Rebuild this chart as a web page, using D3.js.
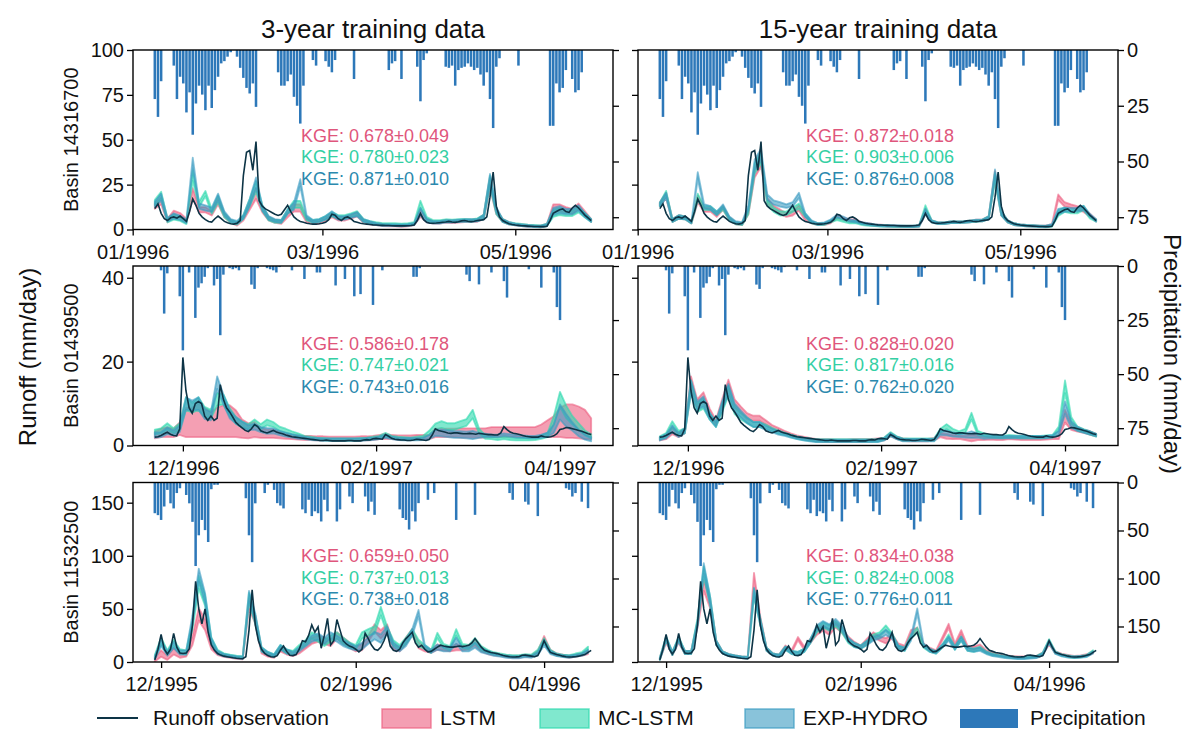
<!DOCTYPE html>
<html>
<head>
<meta charset="utf-8">
<script src="https://cdn.jsdelivr.net/npm/d3@7"></script>
<style>
  body { margin: 0; background: #fff; }
  svg { font-family: "Liberation Sans", Arial, sans-serif; }
</style>
</head>
<body>
<svg id="chart" width="1192" height="730"></svg>
<script>
// ---- data ----
const colTitles = ["3-year training data", "15-year training data"]
const basinIds = ["14316700", "01439500", "11532500"]
const startDates = ["1996-01-08", "1996-11-22", "1995-11-29"]
const monthTicks = [
  ["1996-01-01", "1996-03-01", "1996-05-01"],
  ["1996-12-01", "1997-02-01", "1997-04-01"],
  ["1995-12-01", "1996-02-01", "1996-04-01"]
]
const runoffTicks = [[0, 25, 50, 75, 100], [0, 20, 40], [0, 50, 100, 150]]
const precipTicks = [[0, 25, 50, 75], [0, 25, 50, 75], [0, 50, 100, 150]]
const runoffMax = [100, 42.8, 169]
const precipMax = [80.5, 83, 187]
const modelNames = ["LSTM", "MC-LSTM", "EXP-HYDRO"]
const kgeText = [
  [["0.678±0.049", "0.780±0.023", "0.871±0.010"], ["0.872±0.018", "0.903±0.006", "0.876±0.008"]],
  [["0.586±0.178", "0.747±0.021", "0.743±0.016"], ["0.828±0.020", "0.817±0.016", "0.762±0.020"]],
  [["0.659±0.050", "0.737±0.013", "0.738±0.018"], ["0.834±0.038", "0.824±0.008", "0.776±0.011"]]
]

// daily runoff observation (mm/day)
const obs1 = [11.6,14.3,9,6,5,6.5,7,6.3,7.5,6, 4.5,10,17,13.5,9,6.9,5.5,4.5,4.1,6, 7.5,6,4.5,3.8,3.2,3,3.5,5,30,43,
  44,33,49,16,13,11.5,10.5,9.5,8.5,7.8, 8.5,11,13.5,10,7,5.5,4.5,4,3.5,3.2, 3,3,3.2,3.5,4,5.5,8.5,8,6,5,
  6.5,7,6,4.5,4,3.5,3.2,3,2.8,2.6, 2.5,2.4,2.3,2.2,2.2,2.1,2,2,2,2, 2.1,2.2,2.5,5,9,5.5,4,3.5,3.5,3.6,
  3.8,4,4.2,4.5,4.2,4,4.3,4.8,5,4.6, 4.4,4.6,5,5.2,5.5,7,18,32,13,7, 5,4,3.2,2.8,2.5,2.3,2.1,2,1.9,1.8,
  1.7,1.7,1.6,1.6,1.8,5,9,10,11,11.5, 10,9.5,12,13.5,12,10,8,6.5,5]
const obs2 = [2,2.1,2.4,2.8,3.2,2.7,2.4,2.3,4,21, 13,9,7.7,10,10.5,10,7,6,7,6, 6.5,14.5,11,9,8,6.8,5.5,4.8,4.2,3.6,
  3.3,4,5,4.5,3.5,3.2,3,3.3,3.6,3.2, 3,2.8,2.5,2.3,2.1,2,1.9,1.8,1.7,1.6, 1.5,1.4,1.3,1.2,1.2,1.3,1.2,1.1,1.1,1.1,
  1.1,1.1,1.2,1.2,1.1,1.1,1.1,1.3,1.4,1.3, 1.6,1.7,1.6,1.5,2.6,2.2,1.7,1.5,1.4,1.3, 1.3,1.2,1.2,1.3,1.5,1.4,1.3,1.2,1.4,2.5,
  4,3.6,3.4,3.2,3,2.9,3,3,2.9,2.8, 2.8,2.9,2.8,2.7,2.9,2.8,2.7,2.6,2.6,2.5, 2.5,3,4.5,3.8,3.2,2.9,2.8,2.6,2.4,2.2,
  2.1,2,2,2,2.3,2.1,2,2.1,2.3,2.8, 3.8,4,4.3,4.2,4,3.8,3.6,3.4,3.1,2.8,2.6]
const obs3 = [2,12,26,12,7.5,12,27,14,8.5,8, 8.5,12.6,35,76,50,36,50,28,16,11, 8,6.5,5.5,5,4.5,4,3.6,3.3,3.1,5,
  30,68,35,20,12,8,6,5,4.7,6, 11,15,10,6.3,6,7,12,20,19,25, 35,28,33,13,25,41,16,20,40,30,
  20,17,15,14,12,9.5,12,27,22,16, 12,11,14,20,28,15,11,10,12,18, 22,25,28,18,14,15.8,12,9.5,10,12,
  14,15.8,15,14.5,14,14,14.5,15,14.5,15, 15.8,18,22,18,14,11,10,9,8.5,7.9, 7,6.2,5.5,5,4.7,4.8,5,6.3,6.5,6,
  5.5,5,6,12,20,14,9,8,7,6.3, 5.5,5,4.7,4.8,5,5.5,6.3,7,9,11]

// daily precipitation (mm/day)
const prcp1 = [22,30,14,0,0,0,7,22,12,15, 28,19,38,24,16,20,27,16,26,18, 12,6,5,3,1,0,3,8,12.5,17,
  19.5,15,25.5,0,0,0,0,0,0,10, 16,16,14,11,21,25,33,16,0,0, 4.5,7,0,0,5,7.5,10,4.5,0,0,
  0,0,0,13,0,0,0,0,0,0, 0,0,0,0,9,6,5,0,13,0, 0,0,0,7.5,23,4.5,1.5,0,0,0,
  0,0,7.5,8,7,16,9,8,7.5,6, 7.5,9,8,11,16,10,22,35,7.5,3.7, 0,0,0,0,0,7,0,0,0,0,
  0,0,0,0,0,34,34,15,19,17, 9,0,13,19,18,10,0,0,0]
const prcp2 = [0,0,2,22,3.4,0,0,0,14,39, 0,3,0,24,10,8,5,1,0,9, 6,32,4,0,1,1.5,1,2,0,0,
  0,8.6,10.6,1,0,0,1,1.5,2,3, 0.5,0,0,0,2,0,0,0,6,0, 0,0,3,3,0,0,0,0,9,0,
  0,6,0,0,14,0,13,0,0,0, 18,0,0,2,0,0,0,0,0,0, 0,0,0,5,5,1,0,0,0,0,
  0,0,0,0,0,0,0,0,0,0, 4,7,0,0,8.5,0,0,0,3,0, 0,0,7,14.6,0,0,0,0,0,0,
  1.5,0,0,0,10,0,0,0,3,19, 25,0,0,0,0,0,0,0,0,0,0]
const prcp3 = [32,34,39,25,7.7,21.7,27,11,6,0, 13,21.7,41,87,55,39,49.6,62,7,2.4, 2.4,0,0,0,0,0,0,0,0,16.4,
  55,83,21.7,0,0,11,2.4,0,7.7,21.5, 24,27,0,0,0,0,0,28,32,18, 35,30,32,40.6,18,30,0,0,40.6,28,
  0,0,14.6,21.5,0,0,0,14.6,30,20, 33.7,0,0,0,0,0,0,0,28,37, 39,49,30,40.6,21.5,0,0,18,0,11,
  0,0,0,0,0,0,39,0,0,0, 0,0,33.7,0,0,0,0,0,0,0, 0,0,0,11,18,0,0,0,20,23,
  0,0,35,0,0,0,0,0,0,0, 0,6,7.6,14.6,11,0,20,0,26.7,0]

// model ensembles, every 2nd day: ensemble middle and half spread (mm/day)
const lstm1L = [13,16,5,9,8,5,20,11,11,9, 16,8,4.5,3,6,13,20,11,6,4.5, 4,8,12,12,5,4,4,5.5,8,6,
  6,7,8.5,4.5,3.5,3,2.5,2.3,2.2,2, 2.2,3,9,5,4,4,4.5,4.2,4.5,4.8, 4.8,5,7,26,10,5,3.5,2.8,2.4,2, 1.8,1.7,2.5,12,12,11,10,13,9,5]
const mc1L = [15,19,5,7,6,4,30,14,20,10, 17,8,4.5,3.5,7,15,24,12,6,4.5, 4.5,10,14,14,6,4.5,5,6.5,8.5,7,
  7,8,9,5,4,3.5,3,3,3,2.8, 3,3.5,14,6,4.5,4.5,5,4.8,5,5.2, 5,5.5,7,27,10,5,3.5,3,2.6,2.2, 2,1.8,2.5,9,10,9,9,11,8,5]
const exp1L = [14,18,5.5,7.5,6.5,4.5,37,13,12,11, 18,9,5,4,7,15,26,12,6.5,5, 4.5,10,13,26,7,4.5,5,6.5,9,6.5,
  6.5,7.5,8.5,5,4,3,2.5,2.5,2.4,2.3, 2.5,3,10,5,4,4,4.5,4.5,4.8,5, 5,5.2,7,28,11,5,3.5,2.8,2.4,2, 1.8,1.7,2.5,10,11,10,10,12,8,5]
const spread1L = [1.5,2,1,1.5,1.2,1,3,1.5,1.5,1.2, 2,1.2,0.8,0.8,1,2,3,1.5,1,0.8, 0.8,1.2,2,2,1,0.8,0.8,1,1.2,1,
  1,1,1.2,0.8,0.7,0.6,0.6,0.5,0.5,0.5, 0.5,0.6,2,1,0.7,0.7,0.7,0.7,0.7,0.7, 0.7,0.7,1.2,3,1.5,0.8,0.6,0.5,0.5,0.5, 0.5,0.5,0.6,2,2,1.5,1.5,1.5,1.2,0.8]

const lstm1R = [14,19,5,7,6.5,4,17,11,11,8, 12,6,3.5,3,10,32,38,16,12,10, 8,9,12,6,4,3,3,4,7,6,
  5,5,3.5,3,2.5,2.3,2,2,1.8,1.8, 1.7,2,10,4.5,3.5,3.5,4,4,4.2,4.5, 5,5,6.5,30,9,4.5,3,2.5,2.2,2, 1.8,1.7,2.5,18,14,13,12,11,8,5]
const mc1R = [14,20,5,7,6.5,4,18,12,12,9, 12,6,3.5,3,10,34,40,15,11,9, 9,11,13,8,4,3,3,4.5,6,5,
  4,4,3,2.5,2.3,2,2,1.8,1.8,1.7, 1.7,2,12,4.5,3.5,3.5,4,4,4.2,4.5, 4.8,5,6.5,29,9,4.5,3,2.5,2.2,2, 1.8,1.6,2,9,11,10,10,12,7,5]
const exp1R = [14,19,5,7,6.5,4,30,13,12,9, 13,6.5,4,3.5,12,36,42,18,15,14, 13,14,19,8,4.5,3,3.5,5,7.5,6.5,
  5,4.5,3.5,3,2.5,2.2,2,2,1.9,1.8, 1.8,2,10,4.5,3.5,3.5,4,4,4.2,4.5, 5,5,6.5,31,9,4.5,3,2.5,2.2,2, 1.8,1.7,2.5,10,11,11,11,12,8,5]
const spread1R = [1,1.5,0.8,1,0.8,0.6,2,1.2,1,1, 1,0.8,0.6,0.6,1.5,3,3,1.5,1.2,1.2, 1,1.2,1.5,1,0.6,0.5,0.5,0.6,0.8,0.7,
  0.6,0.6,0.5,0.5,0.4,0.4,0.4,0.4,0.4,0.4, 0.4,0.4,1.5,0.6,0.5,0.5,0.5,0.5,0.5,0.5, 0.5,0.5,0.8,2.5,1.2,0.6,0.5,0.4,0.4,0.4, 0.4,0.4,0.5,1.5,1.2,1,1,1.2,0.8,0.6]

const lstm2L = [2.5,3,3.2,3,4,5.5,5.5,6,5.5,5, 5.5,5.8,5.8,5.2,4,3.5,3.8,3,2.8,2.8, 2.5,2.2,2,1.9,1.8,1.8,1.7,1.7,1.6,1.6,
  1.6,1.6,1.6,1.7,1.7,1.8,2,2.2,2,1.9, 1.9,1.9,2,2,2,3,3,3,3,3, 3,3,3,3,3.2,3.2,3.2,3.2,3.2,3.2, 3.2,3.2,3.5,4,4.5,5.5,5.8,5.8,5.5,5,4]
const lstmSpread2L = [0.8,1,1.2,1,1.5,3.5,3.5,4,3.5,3, 3.5,3.8,3.8,3.2,2.2,1.8,1.8,1.2,1,1, 0.8,0.6,0.5,0.5,0.5,0.5,0.5,0.5,0.5,0.5,
  0.5,0.5,0.5,0.5,0.5,0.5,0.5,0.6,0.5,0.5, 0.5,0.5,0.5,0.5,0.5,1,1,1,1,1.1, 1.1,1.1,1.1,1.1,1.2,1.2,1.2,1.2,1.2,1.2, 1.2,1.2,1.5,2,2.5,3.5,4,4,3.8,3.5,2.5]
const mc2L = [3.2,3.5,4.5,3.5,4.5,10,9,10,8,7.5, 11,11,8,6,5,4.5,5.5,4.5,5.5,5, 4,3.5,3,2.5,2,1.8,1.6,1.5,1.4,1.4,
  1.4,1.4,1.4,1.5,1.6,1.8,2,2.6,2,1.8, 1.7,1.6,1.8,2,3,4.5,5,4.5,4.5,5, 5.5,7.5,3.5,2,1.8,1.6,1.8,1.6,1.5,1.5, 1.5,1.6,2,2.5,6,11,8,6,4.5,3,2.2]
const exp2L = [2.5,2.6,3.5,3,4,10,9.5,10,7.5,7, 15,11,7.5,6,5,4.2,4.5,3.8,3.5,3.5, 3,2.6,2.3,2,1.8,1.6,1.5,1.4,1.4,1.4,
  1.4,1.4,1.4,1.4,1.5,1.6,1.8,2.2,1.8,1.6, 1.5,1.5,1.5,1.6,2,3,3,2.8,2.6,2.6, 2.5,2.5,2.4,2.4,2.3,2.3,2.6,2.4,2.2,2.1, 2,2,2.2,2.6,4,8,6,4.5,3,2,1.5]
const spread2L = [0.6,0.6,0.8,0.6,0.8,1.5,1.2,1.5,1.2,1, 1.5,1.2,1,0.8,0.7,0.6,0.7,0.6,0.7,0.6, 0.5,0.5,0.4,0.4,0.3,0.3,0.3,0.3,0.3,0.3,
  0.3,0.3,0.3,0.3,0.3,0.3,0.3,0.4,0.3,0.3, 0.3,0.3,0.3,0.3,0.5,0.7,0.8,0.8,0.8,0.8, 0.8,1,0.6,0.4,0.3,0.3,0.3,0.3,0.3,0.3, 0.3,0.3,0.4,0.5,1,1.8,1.5,1,0.8,0.6,0.5]

const lstm2R = [1.6,2,3.5,2.5,3.5,15,10,11.5,8,5.5, 10,14.5,10,8.5,7,6.5,6.5,5.5,4.5,3.8, 3.2,2.6,2.1,1.8,1.5,1.3,1.2,1.2,1.1,1.1,
  1.1,1.2,1.2,1.2,1.3,1.4,1.5,2.6,1.8,1.4, 1.3,1.3,1.3,1.3,1.5,2.5,2.2,2,2,1.8, 1.8,1.8,1.7,1.7,1.6,1.6,1.8,1.7,1.6,1.6, 1.6,1.6,1.7,1.8,2,7,4.5,3.8,3.4,3,2.5]
const mc2R = [1.8,2.5,5,3,3.5,14,9,10,7,5, 9,13,8.5,7,6,5,5,4.5,3.8,3.2, 2.8,2.3,1.9,1.6,1.4,1.2,1.2,1.2,1.2,1.2,
  1.2,1.2,1.2,1.2,1.2,1.2,1.6,2.8,1.9,1.4, 1.4,1.4,1.4,1.4,1.4,3.5,4.5,3.5,3,3.5, 7,3,2.5,2.2,2.1,2,2.2,2.1,2,2, 2,2,2.1,2.2,4,14,6,4,3.5,3,2.4]
const exp2R = [1.6,2.2,4,2.5,3.5,14,9.5,10.5,7,5, 9.5,13.5,9,7.5,6,5,5,4.2,3.6,3, 2.6,2.2,1.8,1.5,1.3,1.1,1.1,1.1,1.1,1.1,
  1.1,1.1,1.1,1.1,1.1,1.1,1.5,2.6,1.8,1.3, 1.3,1.3,1.3,1.3,1.3,3,3,2.6,2.4,2.4, 2.6,2.4,2,2,2,2,2,2,2,2, 2,2,2,2.2,3,9,5,4,3.4,3,2.5]
const spread2R = [0.4,0.5,0.8,0.5,0.6,1.5,1,1.2,0.8,0.6, 1,1.2,1,0.8,0.7,0.6,0.6,0.5,0.4,0.4, 0.3,0.3,0.3,0.3,0.3,0.3,0.3,0.3,0.3,0.3,
  0.3,0.3,0.3,0.3,0.3,0.3,0.3,0.4,0.3,0.3, 0.3,0.3,0.3,0.3,0.3,0.5,0.6,0.5,0.4,0.5, 0.8,0.5,0.4,0.3,0.3,0.3,0.3,0.3,0.3,0.3, 0.3,0.3,0.3,0.3,0.5,1.5,0.8,0.5,0.4,0.4,0.3]

const lstm3L = [2,8,4,10,6,7,20,45,35,15, 8,6,5,4,3.5,55,40,10,6.5,5, 12,9,7,10,15,20,22,20,18,25,
  20,16,12,14,22,32,26,32,14,12, 20,28,16,12,10,14,13,12,14,13, 14,18,12,9,7.5,6.5,5.5,5,5,6, 5.5,9,22,10,7,6,5,6,7,9]
const mc3L = [5,20,9,18,10,9,35,75,58,20, 10,7,6,5,4.5,60,40,12,8,6, 14,10,9,14,18,25,22,18,22,25,
  20,16,14,25,28,30,48,30,18,14, 20,28,18,14,10,25,15,13,28,15, 14,20,13,10,8,7,6,5.5,5.5,6.5, 6,10,20,10,7,6,5.5,7,8,13]
const exp3L = [4,18,8,16,9,9,40,82,60,20, 9,6.5,5.5,4.5,4,62,42,12,8,6, 14,10,8,12,17,22,24,20,25,22,
  18,15,13,15,20,25,22,30,16,12, 18,28,46,14,10,14,12,12,20,12, 12,16,11,9,7,6,5,4.5,4.5,5.5, 5,8,18,9,6.5,5.5,5,6,7,10]
const spread3L = [1.5,3,2,3,2,2,4,6,5,3, 1.5,1.2,1,1,1,5,4,2,1.5,1.2, 2,2,1.5,2,2.5,3,3,3,3,3,
  3,2.5,2,3,3,3.5,4,3.5,2.5,2, 3,3,3,2,1.5,2.5,2,2,3,2, 2,2.5,2,1.5,1.2,1,1,1,1,1, 1,1.5,2.5,1.5,1,1,1,1,1.2,1.5]

const lstm3R = [3,20,8,20,9,9,35,72,55,18, 9,6.5,5.5,4.5,4,80,40,12,7,6, 14,10,22,13,20,28,32,28,35,30,
  22,17,14,20,26,22,20,24,16,14, 28,30,16,12,10,22,34,16,28,14, 13,15,10,8,6.5,5.5,5,4.5,4.5,5, 5,8,18,9,7,6,5,5.5,6.5,9]
const mc3R = [3,22,8,22,9,9,38,85,58,18, 9,6.5,5.5,4.5,4,65,38,12,7,6, 13,9,8,11,20,30,35,32,36,30,
  20,16,14,18,24,26,32,25,14,12, 24,30,15,11,9,15,24,13,22,12, 11,13,9,7,6,5,4.5,4,4,4.5, 5,8,20,9,6.5,5.5,4.5,5,6,10]
const exp3R = [3,22,8,21,9,9,36,88,58,18, 9,6.5,5.5,4.5,4,66,38,12,7,6, 13,9,8,11,20,32,36,33,38,32,
  21,16,14,18,22,24,28,24,14,12, 22,48,16,11,9,15,22,13,22,12, 11,12,8.5,6.5,5.5,4.5,4,3.5,3.5,4, 4.5,7.5,19,8.5,6,5,4.5,5,5.5,9]
const spread3R = [1,2,1.5,2,1.5,1.5,3,5,4,2, 1,1,0.8,0.8,0.8,4,3,1.5,1,1, 1.5,1.5,1.5,1.5,2,2.5,2.5,2.5,2.5,2.5,
  2,2,1.5,2,2,2,2.5,2,1.5,1.5, 2,2.5,1.5,1.5,1,1.5,2,1.5,2,1.5, 1.5,1.5,1,1,0.8,0.8,0.8,0.8,0.8,0.8, 0.8,1,1.5,1,0.8,0.8,0.8,0.8,0.8,1]

// ---- build panels from the arrays ----
const obsByRow = [obs1, obs2, obs3]
const prcpByRow = [prcp1, prcp2, prcp3]
const models = [
  [[[lstm1L, spread1L], [mc1L, spread1L], [exp1L, spread1L]], [[lstm1R, spread1R], [mc1R, spread1R], [exp1R, spread1R]]],
  [[[lstm2L, lstmSpread2L], [mc2L, spread2L], [exp2L, spread2L]], [[lstm2R, spread2R], [mc2R, spread2R], [exp2R, spread2R]]],
  [[[lstm3L, spread3L], [mc3L, spread3L], [exp3L, spread3L]], [[lstm3R, spread3R], [mc3R, spread3R], [exp3R, spread3R]]]
]
const modelStep = 2

// ---- layout & style ----
const colX = [133, 638]
const rowY = [50, 266, 482.5]
const pw = 480, ph = 179.5
const kgeX = 168, kgeY0 = [91.5, 83.5, 79.5], kgeDy = 21.5
const bandColor = ["#ec5f80", "#2bd8ad", "#3a9bc2"]
const kgeColor = ["#df567c", "#34cfa4", "#2b89ae"]
const obsColor = "#0d3446"
const prcpColor = "#2d78b9"

const svg = d3.select("#chart")
const parse = d3.utcParse("%Y-%m-%d")
const fmt = d3.utcFormat("%m/%Y")
const DAY = 864e5
const problems = []

function styleAxis(sel) {
  sel.select(".domain").remove()
  sel.selectAll("line").attr("stroke", "#000").attr("stroke-width", 1.3)
  sel.selectAll("text").attr("font-size", 20).attr("fill", "#111")
    .attr("font-family", "'Liberation Sans', Arial, sans-serif")
}

for (let row = 0; row < 3; row++) {
  const obs = obsByRow[row], prcp = prcpByRow[row]
  const n = obs.length
  if (prcp.length !== n) problems.push(`prcp${row + 1} ${prcp.length} vs ${n}`)
  const t0 = parse(startDates[row])
  const dayAt = i => new Date(t0.getTime() + i * DAY)
  const pad = 0.05 * (n - 1)

  for (let col = 0; col < 2; col++) {
    const g = svg.append("g").attr("transform", `translate(${colX[col]},${rowY[row]})`)
    const x = d3.scaleUtc().domain([dayAt(-pad), dayAt(n - 1 + pad)]).range([0, pw])
    const yR = d3.scaleLinear().domain([0, runoffMax[row]]).range([ph, 0])
    const yP = d3.scaleLinear().domain([0, precipMax[row]]).range([0, ph])

    const clipId = `clip${row}${col}`
    g.append("clipPath").attr("id", clipId).append("rect").attr("width", pw).attr("height", ph)
    const plot = g.append("g").attr("clip-path", `url(#${clipId})`)

    // precipitation bars hanging from the top
    const bw = (x(dayAt(1)) - x(dayAt(0))) * 0.8
    plot.append("g").selectAll("rect")
      .data(prcp.map((v, i) => ({ t: dayAt(i), v })).filter(d => d.v > 0))
      .join("rect")
        .attr("x", d => x(d.t) - bw / 2)
        .attr("y", 0)
        .attr("width", bw)
        .attr("height", d => yP(d.v))
        .attr("fill", prcpColor)

    // model ensemble bands
    models[row][col].forEach(([mid, half], m) => {
      const expected = Math.floor((n - 1) / modelStep) + 1
      if (mid.length !== expected || half.length !== expected)
        problems.push(`model r${row + 1}c${col} m${m} ${mid.length}/${half.length} vs ${expected}`)
      const pts = mid.map((v, k) => ({ t: dayAt(k * modelStep), lo: Math.max(0, v - half[k]), hi: v + half[k] }))
      const area = d3.area().x(d => x(d.t)).y0(d => yR(d.lo)).y1(d => yR(d.hi))
      plot.append("path")
        .attr("d", area(pts))
        .attr("fill", bandColor[m])
        .attr("fill-opacity", 0.6)
        .attr("stroke", bandColor[m])
        .attr("stroke-opacity", 0.6)
        .attr("stroke-width", 1.8)
        .attr("stroke-linejoin", "round")
    })

    // observation line
    const line = d3.line().x((d, i) => x(dayAt(i))).y(d => yR(d))
    plot.append("path")
      .attr("d", line(obs))
      .attr("fill", "none")
      .attr("stroke", obsColor)
      .attr("stroke-width", 1.6)

    // axes
    const axL = d3.axisLeft(yR).tickValues(runoffTicks[row]).tickSize(6).tickPadding(3).tickSizeOuter(0)
    if (col === 1) axL.tickFormat("")
    g.append("g").call(axL).call(styleAxis)

    const axR = d3.axisRight(yP).tickValues(precipTicks[row]).tickSize(6).tickPadding(3).tickSizeOuter(0)
    if (col === 0) axR.tickFormat("")
    g.append("g").attr("transform", `translate(${pw},0)`).call(axR).call(styleAxis)

    const axB = d3.axisBottom(x).tickValues(monthTicks[row].map(parse)).tickFormat(fmt)
      .tickSize(6).tickPadding(9).tickSizeOuter(0)
    g.append("g").attr("transform", `translate(0,${ph})`).call(axB).call(styleAxis)

    g.append("rect").attr("width", pw).attr("height", ph)
      .attr("fill", "none").attr("stroke", "#000").attr("stroke-width", 1.4)

    // KGE scores
    kgeText[row][col].forEach((s, m) => {
      g.append("text")
        .attr("x", kgeX)
        .attr("y", kgeY0[row] + m * kgeDy)
        .attr("font-size", 18)
        .attr("fill", kgeColor[m])
        .text(`KGE: ${s}`)
    })

    if (col === 0) {
      svg.append("text")
        .attr("transform", `translate(78,${rowY[row] + ph / 2}) rotate(-90)`)
        .attr("text-anchor", "middle")
        .attr("font-size", 20)
        .attr("fill", "#111")
        .text(`Basin ${basinIds[row]}`)
    }
  }
}

// column titles
colTitles.forEach((s, c) => {
  svg.append("text")
    .attr("x", colX[c] + pw / 2)
    .attr("y", 38)
    .attr("text-anchor", "middle")
    .attr("font-size", 26)
    .attr("fill", "#111")
    .text(s)
})

svg.append("text")
  .attr("transform", "translate(36,357) rotate(-90)")
  .attr("text-anchor", "middle")
  .attr("font-size", 24)
  .attr("fill", "#111")
  .text("Runoff (mm/day)")

svg.append("text")
  .attr("transform", "translate(1164,354) rotate(90)")
  .attr("text-anchor", "middle")
  .attr("font-size", 24)
  .attr("fill", "#111")
  .text("Precipitation (mm/day)")

// legend
const legend = svg.append("g")
legend.append("line").attr("x1", 97).attr("x2", 138).attr("y1", 718).attr("y2", 718)
  .attr("stroke", obsColor).attr("stroke-width", 2)
legend.append("text").attr("x", 153).attr("y", 725).attr("font-size", 21).attr("fill", "#111").text("Runoff observation")
const patchX = [382, 540, 745]
const labelX = [440, 598, 803]
modelNames.forEach((name, m) => {
  legend.append("rect").attr("x", patchX[m]).attr("y", 709).attr("width", 49).attr("height", 19)
    .attr("fill", bandColor[m]).attr("fill-opacity", 0.6)
    .attr("stroke", bandColor[m]).attr("stroke-opacity", 0.7).attr("stroke-width", 1.5)
  legend.append("text").attr("x", labelX[m]).attr("y", 725).attr("font-size", 21).attr("fill", "#111").text(name)
})
legend.append("rect").attr("x", 960).attr("y", 709).attr("width", 58).attr("height", 19).attr("fill", prcpColor)
legend.append("text").attr("x", 1030).attr("y", 725).attr("font-size", 21).attr("fill", "#111").text("Precipitation")

if (problems.length) throw new Error(problems.join("; "))
</script>
</body>
</html>
